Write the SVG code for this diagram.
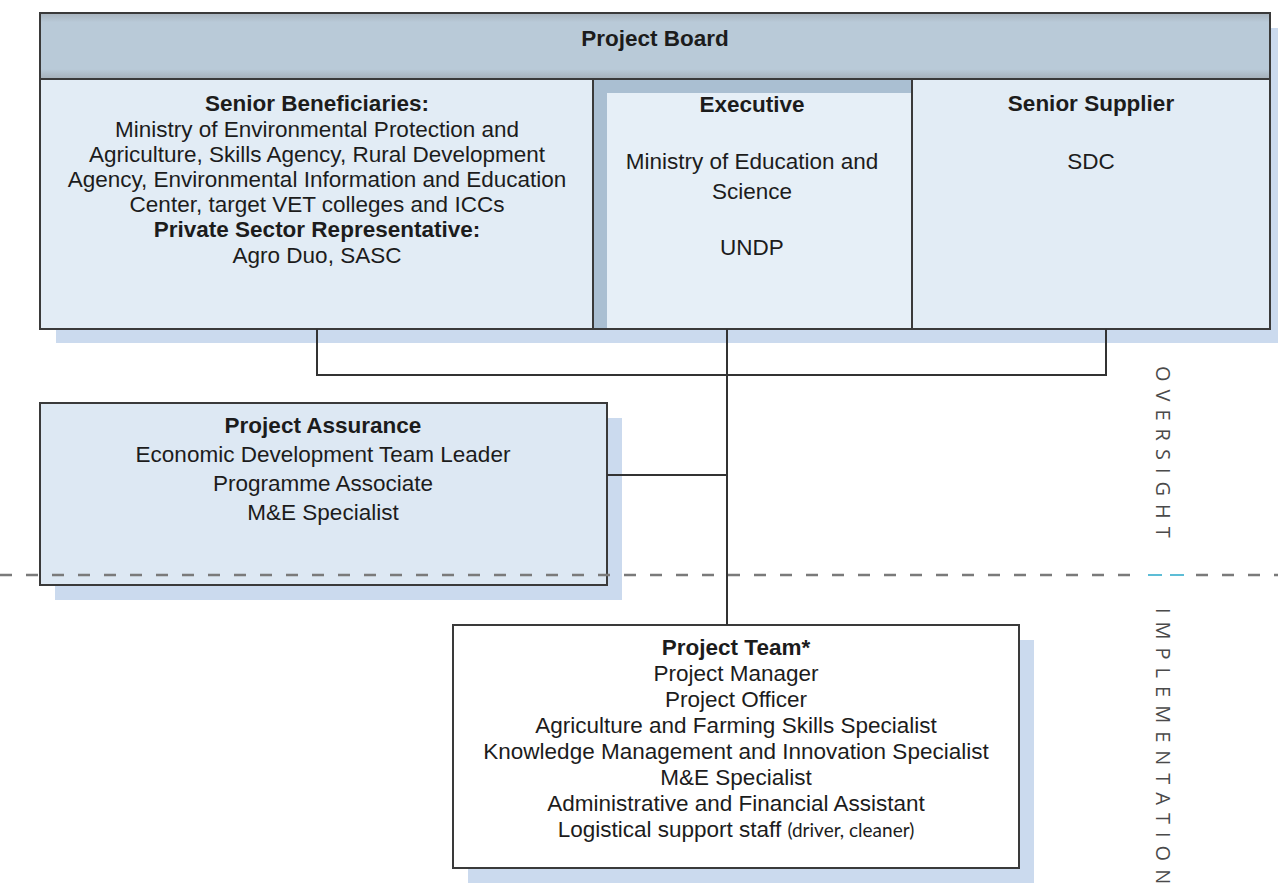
<svg xmlns="http://www.w3.org/2000/svg" width="1278" height="894" viewBox="0 0 1278 894">
  <style>
    .t { font-family: "Liberation Sans", Arial, sans-serif; font-size: 22.5px; fill: #1c1c1c; text-anchor: middle; }
    .b { font-weight: bold; }
    .box { stroke: #3a3a3a; stroke-width: 2; }
    .shadow { fill: #cbdaee; }
    .conn { fill: none; stroke: #333; stroke-width: 2; }
    .side { font-family: "Open Sans", "Liberation Sans", sans-serif; font-size: 20px; fill: #4a4a4a; letter-spacing: 8px; }
  </style>
  <defs>
    <linearGradient id="hdr" x1="0" y1="0" x2="0" y2="1">
      <stop offset="0" stop-color="#a7b3bd"/>
      <stop offset="0.14" stop-color="#b9cad8"/>
      <stop offset="0.85" stop-color="#b9cad8"/>
      <stop offset="1" stop-color="#a5b0b9"/>
    </linearGradient>
  </defs>

  <rect width="1278" height="894" fill="#ffffff"/>

  <!-- Project Board -->
  <g id="project-board">
    <rect class="shadow" x="56" y="28" width="1222" height="315"/>
    <rect class="box" x="40" y="13" width="1230" height="66" fill="url(#hdr)"/>
    <text class="t b" x="655" y="46">Project Board</text>
  </g>

  <g id="senior-beneficiaries">
    <rect class="box" x="40" y="79" width="553" height="250" fill="#e2ecf5"/>
    <text class="t b" x="317" y="111">Senior Beneficiaries:</text>
    <text class="t" x="317" y="137">Ministry of Environmental Protection and</text>
    <text class="t" x="317" y="162">Agriculture, Skills Agency, Rural Development</text>
    <text class="t" x="317" y="187">Agency, Environmental Information and Education</text>
    <text class="t" x="317" y="212">Center, target VET colleges and ICCs</text>
    <text class="t b" x="317" y="237">Private Sector Representative:</text>
    <text class="t" x="317" y="263">Agro Duo, SASC</text>
  </g>

  <g id="executive">
    <rect class="box" x="593" y="79" width="319" height="250" fill="#aabfd2"/>
    <rect x="607" y="93" width="304" height="235" fill="#e6eff7"/>
    <text class="t b" x="752" y="112">Executive</text>
    <text class="t" x="752" y="169">Ministry of Education and</text>
    <text class="t" x="752" y="199">Science</text>
    <text class="t" x="752" y="255">UNDP</text>
  </g>

  <g id="senior-supplier">
    <rect class="box" x="912" y="79" width="358" height="250" fill="#e2ecf5"/>
    <text class="t b" x="1091" y="111">Senior Supplier</text>
    <text class="t" x="1091" y="169">SDC</text>
  </g>

  <!-- Project Assurance -->
  <g id="project-assurance">
    <rect class="shadow" x="55" y="418" width="567" height="182"/>
    <rect class="box" x="40" y="403" width="567" height="182" fill="#dde8f3"/>
    <text class="t b" x="323" y="433">Project Assurance</text>
    <text class="t" x="323" y="462">Economic Development Team Leader</text>
    <text class="t" x="323" y="491">Programme Associate</text>
    <text class="t" x="323" y="520">M&amp;E Specialist</text>
  </g>

  <!-- Project Team -->
  <g id="project-team">
    <rect class="shadow" x="468" y="640" width="566" height="243"/>
    <rect class="box" x="453" y="625" width="566" height="243" fill="#ffffff"/>
    <text class="t b" x="736" y="655">Project Team*</text>
    <text class="t" x="736" y="681">Project Manager</text>
    <text class="t" x="736" y="707">Project Officer</text>
    <text class="t" x="736" y="733">Agriculture and Farming Skills Specialist</text>
    <text class="t" x="736" y="759">Knowledge Management and Innovation Specialist</text>
    <text class="t" x="736" y="785">M&amp;E Specialist</text>
    <text class="t" x="736" y="811">Administrative and Financial Assistant</text>
    <text class="t" x="736" y="837">Logistical support staff <tspan style="font-family: Lato, 'Open Sans', sans-serif; font-size: 19px;">(driver, cleaner)</tspan></text>
  </g>

  <!-- Connectors -->
  <g id="connectors">
    <polyline class="conn" points="317,329 317,375 1106,375 1106,329"/>
    <line class="conn" x1="727" y1="329" x2="727" y2="625"/>
    <line class="conn" x1="607" y1="475" x2="727" y2="475"/>
  </g>

  <!-- Oversight / implementation divider -->
  <g id="divider">
    <line x1="0" y1="575" x2="1140" y2="575" stroke="#7a7a7a" stroke-width="2.5" stroke-dasharray="12 14"/>
    <line x1="1148" y1="575" x2="1162" y2="575" stroke="#5dbdd6" stroke-width="2"/>
    <line x1="1170" y1="575" x2="1184" y2="575" stroke="#5dbdd6" stroke-width="2"/>
    <line x1="1196" y1="575" x2="1278" y2="575" stroke="#7a7a7a" stroke-width="2.5" stroke-dasharray="12 14"/>
    <text class="side" transform="translate(1156,366) rotate(90)">OVERSIGHT</text>
    <text class="side" transform="translate(1156,608) rotate(90)">IMPLEMENTATION</text>
  </g>
</svg>
